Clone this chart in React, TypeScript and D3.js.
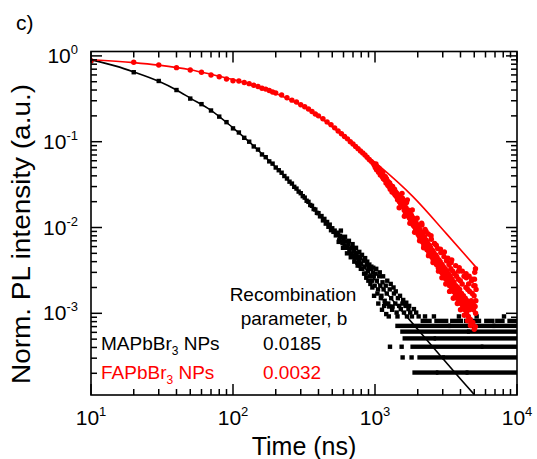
import React from "react";
import * as d3 from "d3";

const W = 537;
const H = 459;

// axis settings
const xDomain: [number, number] = [10, 10000];
const yDomain: [number, number] = [1.117e-4, 1.125];
const xMajor = [10, 100, 1000, 10000];
const xMajorExp = ["1", "2", "3", "4"];
const yMajor = [1, 0.1, 0.01, 0.001];
const yMajorExp = ["0", "-1", "-2", "-3"];

// MAPbBr3 NPs measured decay (time ns, norm. intensity)
const mapData: [number, number][] = [
  [10, 0.87], [20, 0.645], [30, 0.51], [40, 0.4], [50, 0.318], [60, 0.274], [70, 0.231], [80, 0.196], [90, 0.169], [100, 0.143],
  [110, 0.128], [120, 0.111], [130, 0.1], [140, 0.088], [150, 0.081], [160, 0.071], [170, 0.066], [180, 0.059], [190, 0.0555], [200, 0.05],
  [210, 0.0465], [220, 0.0435], [230, 0.0398], [240, 0.0372], [250, 0.0342], [260, 0.0325], [270, 0.0298], [280, 0.0284], [290, 0.0262], [300, 0.0251],
  [310, 0.0232], [320, 0.0223], [330, 0.0205], [340, 0.0199], [350, 0.0183], [360, 0.0179], [370, 0.0164], [380, 0.0162], [390, 0.0148], [400, 0.0147],
  [410, 0.0135], [420, 0.0136], [430, 0.0121], [440, 0.0126], [450, 0.0111], [460, 0.0116], [470, 0.0102], [480, 0.0108], [490, 0.0093], [500, 0.0098],
  [510, 0.0089], [520, 0.0092], [530, 0.0081], [540, 0.0087], [550, 0.0083], [560, 0.0071], [570, 0.008], [580, 0.0077], [590, 0.0066], [600, 0.0071],
  [610, 0.0062], [620, 0.0069], [630, 0.0058], [640, 0.006], [650, 0.0064], [660, 0.0052], [670, 0.0057], [680, 0.0049], [690, 0.0058], [700, 0.0047],
  [710, 0.0053], [720, 0.0044], [730, 0.0051], [740, 0.0049], [750, 0.0039], [760, 0.0046], [770, 0.0042], [780, 0.0036], [790, 0.0044], [800, 0.0038],
  [815, 0.0033], [830, 0.0041], [845, 0.0035], [860, 0.0029], [875, 0.0037], [890, 0.0031], [905, 0.0034], [920, 0.0027], [935, 0.0033], [950, 0.0024],
  [965, 0.003], [980, 0.0027], [985, 0.0016], [995, 0.0021], [1010, 0.0029], [1030, 0.0024], [1050, 0.0019], [1055, 0.0013], [1070, 0.0027], [1090, 0.0021],
  [1110, 0.0016], [1120, 0.0011], [1130, 0.0023], [1150, 0.0019], [1160, 0.00122], [1170, 0.0014], [1190, 0.0021], [1200, 0.00098], [1210, 0.0017], [1240, 0.0013],
  [1250, 0.00092], [1270, 0.0019], [1275, 0.000408], [1300, 0.0015], [1330, 0.0012], [1360, 0.0017], [1390, 0.0013], [1420, 0.00102], [1450, 0.0015], [1480, 0.00122],
  [1520, 0.00112], [1540, 0.000408], [1560, 0.0013], [1565, 0.000306], [1600, 0.00102], [1640, 0.00122], [1680, 0.00092], [1720, 0.00112], [1770, 0.00102], [1810, 0.000306],
  [1820, 0.00092], [1880, 0.00112], [1950, 0.00102], [2030, 0.00092], [2250, 0.00092], [2600, 0.00092], [3900, 0.00092], [5200, 0.00092], [8100, 0.00092],
  [555, 0.0068], [575, 0.0092], [595, 0.0058], [615, 0.0078], [635, 0.005], [655, 0.007], [675, 0.0045], [695, 0.0064], [715, 0.004], [735, 0.0058],
  [755, 0.0036], [775, 0.0052], [795, 0.0033], [810, 0.0048], [838, 0.0029], [852, 0.0044], [868, 0.0026], [882, 0.004], [898, 0.0024], [912, 0.0037],
  [928, 0.0022], [942, 0.0035], [958, 0.002], [972, 0.0034], [1020, 0.0033], [1040, 0.0017], [1080, 0.003], [1100, 0.0015], [1140, 0.0027], [1180, 0.0013],
  [1220, 0.0024], [1260, 0.0012], [1290, 0.0022], [1320, 0.0011], [1350, 0.002], [1400, 0.0018], [1440, 0.00092], [1500, 0.0016], [1580, 0.00143], [1660, 0.00133],
  [1740, 0.00122],
];

// MAPbBr3 quantised noise-floor runs: [level, t start, t end]
const mapFloorRuns: [number, number, number][] = [
  [8.16e-4, 2170, 2420], [8.16e-4, 2710, 3170], [8.16e-4, 3500, 4020], [8.16e-4, 4380, 5400],
  [8.16e-4, 6080, 6700], [8.16e-4, 7270, 7900], [8.16e-4, 8860, 10000],
  [7.14e-4, 1440, 3300], [7.14e-4, 3400, 6800], [7.14e-4, 6950, 10000],
  [6.12e-4, 1560, 4500], [6.12e-4, 4600, 10000],
  [5.1e-4, 1620, 2600], [5.1e-4, 2680, 10000],
  [4.08e-4, 1840, 5600], [4.08e-4, 5750, 10000],
  [3.06e-4, 2060, 3000], [3.06e-4, 3080, 10000],
  [2.04e-4, 1900, 2700], [2.04e-4, 2780, 4400], [2.04e-4, 4500, 10000],
];

// FAPbBr3 NPs measured decay
const faData: [number, number][] = [
  [10, 0.88], [20, 0.842], [30, 0.783], [40, 0.729], [50, 0.685], [60, 0.644], [70, 0.6], [80, 0.572], [90, 0.538], [100, 0.514],
  [110, 0.51], [120, 0.49], [130, 0.475], [140, 0.455], [150, 0.44], [160, 0.42], [170, 0.41], [180, 0.395], [190, 0.38], [200, 0.37],
  [220, 0.35], [240, 0.325], [260, 0.305], [280, 0.29], [300, 0.27], [320, 0.255], [340, 0.24], [360, 0.225], [380, 0.21], [400, 0.2],
  [430, 0.185], [460, 0.17], [490, 0.158], [520, 0.145], [550, 0.133], [580, 0.124], [610, 0.115], [640, 0.108], [670, 0.1], [700, 0.094],
  [730, 0.088], [760, 0.083], [790, 0.078], [820, 0.074], [850, 0.07], [880, 0.066], [910, 0.062], [940, 0.059], [970, 0.056], [990, 0.053],
  [1005, 0.05], [1015, 0.055], [1025, 0.047], [1035, 0.051], [1045, 0.048], [1060, 0.044], [1068, 0.049], [1080, 0.046], [1090, 0.041], [1100, 0.045],
  [1112, 0.042], [1125, 0.039], [1133, 0.044], [1145, 0.037], [1158, 0.04], [1170, 0.036], [1182, 0.039], [1195, 0.033], [1205, 0.037], [1218, 0.035],
  [1230, 0.031], [1242, 0.034], [1255, 0.03], [1268, 0.033], [1280, 0.028], [1292, 0.031], [1305, 0.029], [1318, 0.026], [1330, 0.03], [1345, 0.027],
  [1358, 0.025], [1372, 0.028], [1386, 0.024], [1400, 0.026], [1414, 0.023], [1428, 0.025], [1442, 0.021], [1457, 0.024], [1471, 0.022], [1486, 0.02],
  [1500, 0.023], [1515, 0.019], [1530, 0.021], [1545, 0.018], [1560, 0.022], [1575, 0.0175], [1590, 0.02], [1605, 0.016], [1620, 0.0185], [1636, 0.015],
  [1652, 0.017], [1668, 0.0195], [1684, 0.0145], [1700, 0.016], [1717, 0.0135], [1734, 0.0158], [1751, 0.0128], [1768, 0.0148], [1786, 0.0121], [1804, 0.0139],
  [1822, 0.0113], [1840, 0.0131], [1858, 0.0106], [1877, 0.0125], [1896, 0.0102], [1915, 0.0118], [1934, 0.0095], [1953, 0.0112], [1973, 0.0089], [1993, 0.0106],
  [2013, 0.0083], [2024, 0.0091], [2034, 0.01], [2055, 0.0078], [2076, 0.0094], [2088, 0.0085], [2097, 0.0072], [2118, 0.0088], [2140, 0.0107], [2150, 0.0074],
  [2162, 0.0068], [2184, 0.0082], [2206, 0.0063], [2217, 0.007], [2229, 0.0077], [2252, 0.0095], [2275, 0.0059], [2285, 0.0064], [2298, 0.0071], [2322, 0.0055],
  [2346, 0.0066], [2358, 0.006], [2370, 0.0084], [2394, 0.0051], [2419, 0.0062], [2432, 0.0055], [2444, 0.0048], [2469, 0.0058], [2494, 0.0073], [2507, 0.005],
  [2520, 0.0045], [2546, 0.0054], [2572, 0.0042], [2585, 0.0047], [2598, 0.0051], [2625, 0.0065], [2652, 0.0039], [2665, 0.0043], [2679, 0.0048], [2707, 0.0037],
  [2735, 0.0045], [2749, 0.004], [2763, 0.0057], [2791, 0.0034], [2820, 0.0042], [2834, 0.0036], [2849, 0.0032], [2878, 0.004], [2908, 0.0051], [2923, 0.0034],
  [2938, 0.003], [2968, 0.0037], [2998, 0.0029], [3013, 0.0032], [3029, 0.0035], [3060, 0.0046], [3091, 0.0027], [3106, 0.003], [3122, 0.0033], [3154, 0.0025],
  [3186, 0.0041], [3203, 0.0028], [3219, 0.0031], [3252, 0.0023], [3285, 0.0029], [3303, 0.0025], [3319, 0.0037], [3353, 0.0021], [3387, 0.0027], [3405, 0.0023],
  [3422, 0.0033], [3440, 0.0039], [3457, 0.0019], [3492, 0.0025], [3510, 0.0021], [3528, 0.0031], [3564, 0.0018], [3600, 0.0023], [3619, 0.002], [3637, 0.0029],
  [3674, 0.0016], [3712, 0.0021], [3731, 0.0018], [3750, 0.0027], [3788, 0.0015], [3827, 0.002], [3846, 0.0017], [3866, 0.0025], [3880, 0.0031], [3906, 0.0014],
  [3946, 0.0019], [3966, 0.0016], [3986, 0.0024], [4027, 0.0013], [4068, 0.0017], [4089, 0.0015], [4110, 0.0022], [4152, 0.0012], [4194, 0.0016], [4216, 0.0014],
  [4237, 0.0027], [4280, 0.0011], [4324, 0.0015], [4347, 0.0013], [4368, 0.002], [4400, 0.0026], [4413, 0.001], [4458, 0.0014], [4481, 0.0012], [4504, 0.0019],
  [4550, 0.00092], [4560, 0.0022], [4596, 0.0013], [4620, 0.0011], [4643, 0.0018], [4691, 0.00085], [4700, 0.00072], [4739, 0.0012], [4763, 0.0014], [4787, 0.0024],
  [4836, 0.0017], [4886, 0.00078], [4911, 0.0013], [4936, 0.0011], [4960, 0.0021], [4986, 0.0016], [5000, 0.00065], [5037, 0.003], [5060, 0.0021], [5070, 0.0012],
  [5090, 0.0007], [5110, 0.001], [5130, 0.0014], [5150, 0.0019],
  [1480, 0.017], [1550, 0.025], [1610, 0.0135], [1690, 0.021], [1760, 0.0112], [1830, 0.016], [1900, 0.0088], [1980, 0.0128], [2060, 0.007], [2130, 0.0112],
  [2200, 0.0058], [2290, 0.009], [2380, 0.0047], [2480, 0.008], [2560, 0.0039], [2700, 0.0062], [2800, 0.0031], [2890, 0.0056], [2960, 0.0026], [3080, 0.0052],
  [3150, 0.0022], [3260, 0.0044], [3350, 0.0018], [3470, 0.0042], [3560, 0.0015], [3700, 0.0036], [3800, 0.0013], [3920, 0.0034], [4000, 0.0011], [4120, 0.0031],
  [4250, 0.00095], [4380, 0.0029], [4480, 0.00082], [4600, 0.0027], [4780, 0.00075], [4850, 0.0025], [5020, 0.0025], [5100, 0.0033],
];

// fitted curves
const mapFit: [number, number][] = [
  [10, 0.9], [15, 0.76], [20, 0.65], [30, 0.505], [40, 0.4], [50, 0.322], [70, 0.232], [100, 0.145], [130, 0.0995], [160, 0.0722],
  [200, 0.0504], [250, 0.0345], [300, 0.0248], [400, 0.0144], [500, 0.00938], [700, 0.0049], [1000, 0.00246], [1500, 0.00113],
  [2000, 0.00065], [3000, 0.000297], [4000, 0.000172], [5000, 0.000113],
];
const faFit: [number, number][] = [
  [10, 0.9], [20, 0.835], [30, 0.78], [50, 0.69], [70, 0.61], [100, 0.53], [160, 0.42], [250, 0.31], [350, 0.23], [530, 0.137],
  [870, 0.069], [1080, 0.0515], [1850, 0.0229], [3170, 0.00855], [5100, 0.0035],
];

const legendNames = ["MAPbBr", "FAPbBr"];
const legendParams = ["0.0185", "0.0032"];
const seriesColors = ["#000000", "#ff0000"];

const FONT = "'Liberation Sans', Arial, Helvetica, sans-serif";

export default function App() {
  const L = 91, R = 517, T = 51.5, B = 395;
  const x = d3.scaleLog().domain(xDomain).range([L, R]);
  const y = d3.scaleLog().domain(yDomain).range([B, T]);

  const xMinor: number[] = [];
  [10, 100, 1000].forEach((d) => { for (let k = 2; k <= 9; k++) xMinor.push(d * k); });
  const yMinor: number[] = [];
  [1e-4, 1e-3, 1e-2, 1e-1].forEach((d) => {
    for (let k = 2; k <= 9; k++) { const v = d * k; if (v >= yDomain[0] && v <= yDomain[1]) yMinor.push(v); }
  });

  const line = d3.line<[number, number]>().x((d) => x(d[0])).y((d) => y(d[1])).curve(d3.curveMonotoneX);

  const MAJ = 11, MIN = 6;
  const sq = 4.4;
  const tick = { stroke: "#000", strokeWidth: 1.5 };

  return (
    <svg width={W} height={H} style={{ display: "block", position: "absolute", left: 0, top: 0 }} fontFamily={FONT}>
      <rect width={W} height={H} fill="#fff" />
      <defs>
        <clipPath id="plot"><rect x={L} y={T} width={R - L} height={B - T} /></clipPath>
      </defs>

      <g clipPath="url(#plot)">
        {mapFloorRuns.map((r, i) => (
          <rect key={"r" + i} x={x(r[1]) - sq / 2} y={y(r[0]) - sq / 2} width={x(r[2]) - x(r[1]) + sq} height={sq} fill="#000" />
        ))}
        {mapData.map((d, i) => (
          <rect key={"m" + i} x={x(d[0]) - sq / 2} y={y(d[1]) - sq / 2} width={sq} height={sq} fill="#000" />
        ))}
        {faData.map((d, i) => (
          <circle key={"f" + i} cx={x(d[0])} cy={y(d[1])} r={2.7} fill="#ff0000" />
        ))}
        <path d={line(mapFit) || ""} fill="none" stroke="#000" strokeWidth={1.6} />
        <path d={line(faFit) || ""} fill="none" stroke="#ff0000" strokeWidth={1.6} />
      </g>

      {/* frame */}
      <rect x={L} y={T} width={R - L} height={B - T} fill="none" stroke="#000" strokeWidth={1.6} />

      {/* x ticks bottom & top */}
      {xMajor.map((v, i) => (
        <g key={"xM" + i}>
          <line x1={x(v)} x2={x(v)} y1={B} y2={B - MAJ} {...tick} />
          <line x1={x(v)} x2={x(v)} y1={T} y2={T + MAJ} {...tick} />
          <text x={x(v)} y={425} textAnchor="middle" fontSize={21}>
            10<tspan dy={-9} fontSize={13}>{xMajorExp[i]}</tspan>
          </text>
        </g>
      ))}
      {xMinor.map((v, i) => (
        <g key={"xm" + i}>
          <line x1={x(v)} x2={x(v)} y1={B} y2={B - MIN} {...tick} />
          <line x1={x(v)} x2={x(v)} y1={T} y2={T + MIN} {...tick} />
        </g>
      ))}

      {/* y ticks left & right */}
      {yMajor.map((v, i) => (
        <g key={"yM" + i}>
          <line x1={L} x2={L + MAJ} y1={y(v)} y2={y(v)} {...tick} />
          <line x1={R} x2={R - MAJ} y1={y(v)} y2={y(v)} {...tick} />
          <text x={78} y={y(v) + 7} textAnchor="end" fontSize={21}>
            10<tspan dy={-9} fontSize={13}>{yMajorExp[i]}</tspan>
          </text>
        </g>
      ))}
      {yMinor.map((v, i) => (
        <g key={"ym" + i}>
          <line x1={L} x2={L + MIN} y1={y(v)} y2={y(v)} {...tick} />
          <line x1={R} x2={R - MIN} y1={y(v)} y2={y(v)} {...tick} />
        </g>
      ))}

      {/* axis titles */}
      <text x={304} y={455} textAnchor="middle" fontSize={25}>Time (ns)</text>
      <text transform="translate(30, 234) rotate(-90)" textAnchor="middle" fontSize={25} textLength={300} lengthAdjust="spacingAndGlyphs">
        Norm. PL intensity (a.u.)
      </text>
      <text x={16} y={30} fontSize={21}>c)</text>

      {/* legend */}
      <text x={293} y={301} textAnchor="middle" fontSize={19}>Recombination</text>
      <text x={294} y={324.5} textAnchor="middle" fontSize={19}>parameter, b</text>
      {legendNames.map((n, i) => (
        <g key={"lg" + i} fill={seriesColors[i]}>
          <text x={101} y={349.5 + i * 29.5} fontSize={19}>
            {n}<tspan dy={5} fontSize={12}>3</tspan><tspan dy={-5}>{" NPs"}</tspan>
          </text>
          <text x={263} y={349.5 + i * 29.5} fontSize={19}>{legendParams[i]}</text>
        </g>
      ))}
    </svg>
  );
}
